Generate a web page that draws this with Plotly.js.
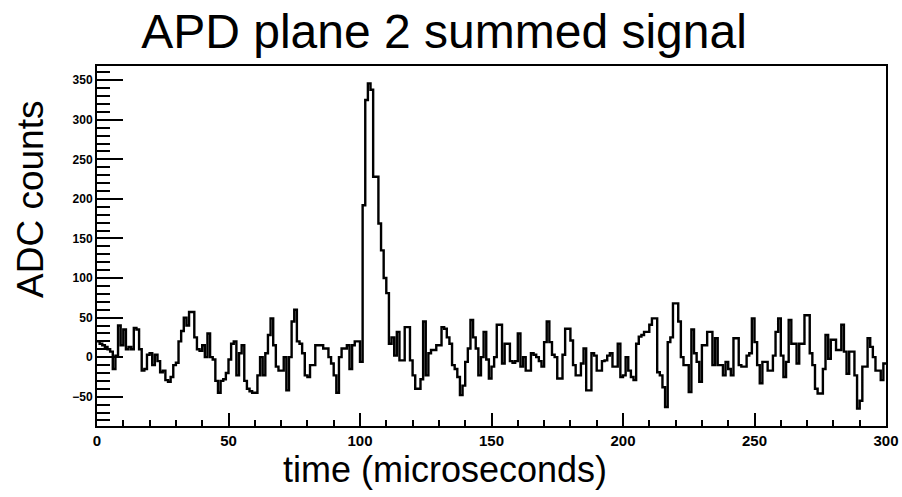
<!DOCTYPE html>
<html>
<head>
<meta charset="utf-8">
<script src="https://cdn.plot.ly/plotly-3.0.1.min.js"></script>
<style>html,body{margin:0;padding:0;background:#fff;}#chart{width:902px;height:497px;}</style>
</head>
<body>
<div id="chart"></div>
<script>
// Histogram: 300 bins of 1 microsecond, ADC counts per bin
const binWidth = 1;
const adcCounts = [
  20, 17, 15, 13, 10, 7, -15, 2, 40, 15, 35, 10, 13, 10, 37, 35, 10, -17, -15, 3,
  5, -10, 3, -5, -19, -17, -29, -31, -25, -10, -7, 20, 33, 50, 40, 57, 57, 25, 10, 8,
  15, 0, 30, 0, -3, -30, -45, -30, -28, -20, -3, 17, 20, -23, 5, 15, -30, -40, -43, -45,
  -45, -23, 0, -23, 5, 28, 49, 15, -12, -17, -17, 0, -42, 0, 45, 60, 20, 17, 5, -23,
  -25, -10, -10, 15, 15, 15, 11, 11, 0, -8, -23, -45, 0, 11, 11, 15, -15, 15, 20, 20,
  -6, 192, 325, 346, 338, 228, 228, 169, 135, 100, 81, 17, 25, 2, 32, -4, -4, 38, 38, -4,
  -23, -40, -40, -28, 45, -23, 5, 9, 9, 15, 15, 38, 36, 25, 17, -10, -15, -25, -48, -36,
  -6, 11, 47, 25, 11, -23, 0, 32, -3, -27, -12, 0, 41, 41, -8, 17, 17, -5, -7, -5,
  30, -12, 0, -17, -17, 5, 3, 0, -5, -12, 19, 45, 19, 3, 0, -27, -27, 3, 36, 36,
  21, -10, -23, -23, -8, 11, -42, -42, 5, 2, -17, -17, -5, -4, 2, 5, -12, -12, 17, -25,
  -23, 0, -17, -25, -29, 17, 26, 28, 32, 32, 41, 49, 49, -19, -23, -38, -63, 19, 25, 68,
  68, 45, 0, -10, -10, -44, 35, 5, -6, -31, 15, 15, 32, 32, -10, 24, -10, -10, -23, -6,
  -15, -23, 24, 24, -10, -12, -12, 2, 5, 49, 19, -10, -33, -6, -6, -17, -17, 2, 32, 49,
  2, -25, -6, 47, 17, 17, -8, 17, 17, 53, 53, 5, -10, -40, -46, -46, -15, 28, -2, 22,
  22, 9, 9, 41, 7, -21, 7, 7, -23, -65, -55, -12, -12, 24, 13, 0, -17, -17, -29, -8
];
const titleText = "APD plane 2 summed signal";
const xTitleText = "time (microseconds)";
const yTitleText = "ADC counts";

// bin lower edges + closing edge for the step outline
const xs = adcCounts.map((_, i) => i * binWidth);
xs.push(adcCounts.length * binWidth);
const ys = adcCounts.slice();
ys.push(adcCounts[adcCounts.length - 1]);

const FONT = "Liberation Sans, Arial, Helvetica, sans-serif";

const trace = {
  x: xs, y: ys, type: "scatter", mode: "lines",
  line: {shape: "hv", color: "#000", width: 2.4},
  hoverinfo: "skip"
};

const axisCommon = {
  showline: true, linecolor: "#000", linewidth: 2, mirror: true,
  showgrid: false, zeroline: false,
  ticks: "inside", tickcolor: "#000", tickwidth: 2
};

const layout = {
  width: 902, height: 497,
  margin: {l: 97, r: 16, t: 66, b: 71, pad: 0},
  paper_bgcolor: "#fff", plot_bgcolor: "#fff",
  showlegend: false,
  title: {text: titleText, x: 444 / 902, xanchor: "center", xref: "container",
          y: 1 - 31 / 497, yanchor: "middle", yref: "container",
          font: {family: FONT, size: 48, color: "#000"}},
  xaxis: Object.assign({}, axisCommon, {
    range: [0, 300], tickmode: "linear", tick0: 0, dtick: 50, ticklen: 13,
    tickfont: {family: FONT, size: 15, color: "#000", weight: "bold"},
    minor: {dtick: 10, ticks: "inside", ticklen: 6, tickwidth: 2, tickcolor: "#000", showgrid: false},
    title: {text: ""}
  }),
  yaxis: Object.assign({}, axisCommon, {
    range: [-87, 368], tickmode: "linear", tick0: 0, dtick: 50, ticklen: 26,
    tickfont: {family: FONT, size: 12, color: "#000", weight: "bold"},
    minor: {dtick: 10, ticks: "inside", ticklen: 13, tickwidth: 2, tickcolor: "#000", showgrid: false},
    title: {text: ""}
  }),
  annotations: [
    {text: xTitleText, xref: "paper", yref: "paper",
     x: (445 - 97) / (886 - 97), y: (426 - 469) / (426 - 66),
     xanchor: "center", yanchor: "middle", showarrow: false,
     font: {family: FONT, size: 36, color: "#000"}},
    {text: yTitleText, xref: "paper", yref: "paper", textangle: -90,
     x: (30 - 97) / (886 - 97), y: (426 - 200) / (426 - 66),
     xanchor: "center", yanchor: "middle", showarrow: false,
     font: {family: FONT, size: 37, color: "#000"}}
  ]
};

Plotly.newPlot("chart", [trace], layout, {staticPlot: true, displayModeBar: false});
</script>
</body>
</html>
